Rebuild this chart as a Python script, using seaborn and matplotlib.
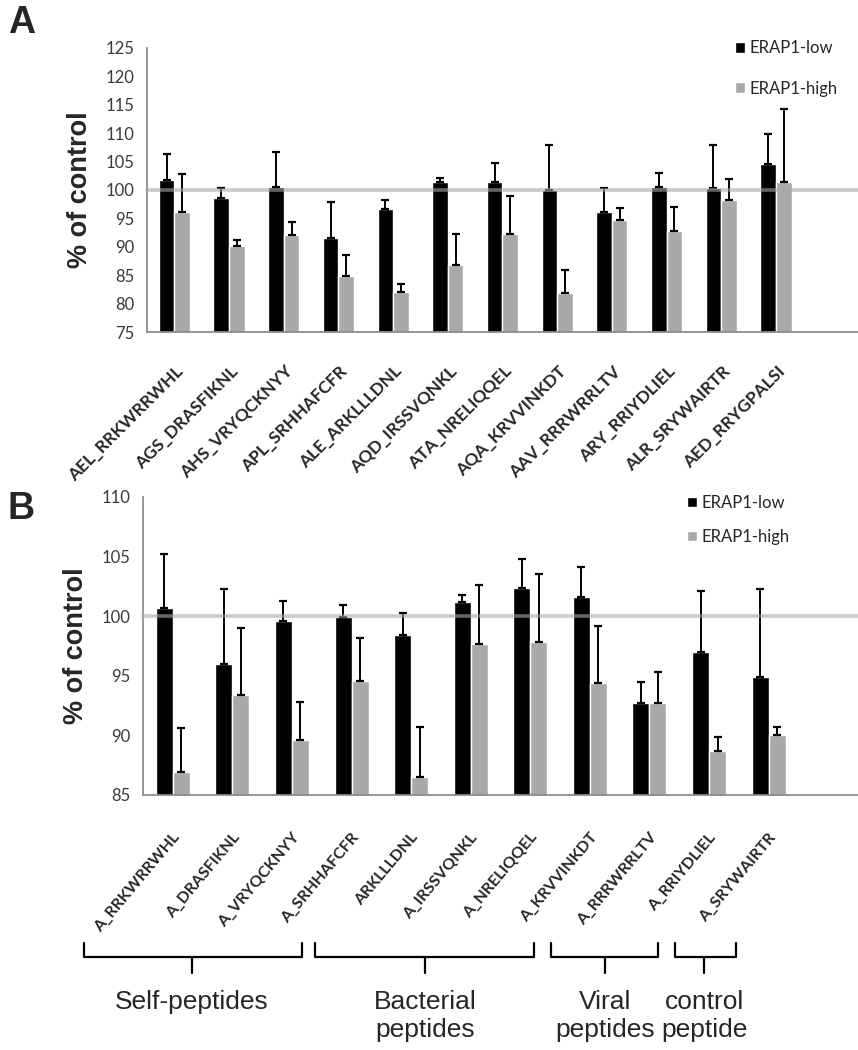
import numpy as np
import pandas as pd
import matplotlib
matplotlib.use("Agg")
import matplotlib.pyplot as plt
import matplotlib.transforms as mtransforms
import seaborn as sns

# ---- data ----
series = ["ERAP1-low", "ERAP1-high"]

peptides_a = ["AEL_RRKWRRWHL", "AGS_DRASFIKNL", "AHS_VRYQCKNYY", "APL_SRHHAFCFR",
              "ALE_ARKLLLDNL", "AQD_IRSSVQNKL", "ATA_NRELIQQEL", "AQA_KRVVINKDT",
              "AAV_RRRWRRLTV", "ARY_RRIYDLIEL", "ALR_SRYWAIRTR", "AED_RRYGPALSI"]
low_a = [101.7, 98.6, 100.6, 91.6, 96.6, 101.4, 101.4, 100.0, 96.2, 100.5, 100.3, 104.5]
low_a_sd = [4.6, 1.7, 6.1, 6.2, 1.6, 0.7, 3.4, 8.0, 4.1, 2.5, 7.6, 5.3]
high_a = [96.1, 90.2, 92.1, 84.9, 82.1, 86.8, 92.3, 81.9, 94.7, 92.8, 98.2, 101.4]
high_a_sd = [6.7, 1.0, 2.3, 3.6, 1.3, 5.4, 6.7, 4.1, 2.1, 4.2, 3.7, 12.8]

peptides_b = ["A_RRKWRRWHL", "A_DRASFIKNL", "A_VRYQCKNYY", "A_SRHHAFCFR",
              "ARKLLLDNL", "A_IRSSVQNKL", "A_NRELIQQEL", "A_KRVVINKDT",
              "A_RRRWRRLTV", "A_RRIYDLIEL", "A_SRYWAIRTR"]
low_b = [100.7, 96.0, 99.6, 99.9, 98.4, 101.2, 102.4, 101.6, 92.7, 97.0, 94.9]
low_b_sd = [4.5, 6.3, 1.7, 1.0, 1.9, 0.6, 2.4, 2.5, 1.8, 5.1, 7.4]
high_b = [86.9, 93.4, 89.6, 94.6, 86.5, 97.7, 97.8, 94.4, 92.7, 88.7, 90.0]
high_b_sd = [3.7, 5.6, 3.2, 3.6, 4.2, 4.9, 5.7, 4.8, 2.6, 1.2, 0.7]

groups = ["Self-peptides", "Bacterial\npeptides", "Viral\npeptides", "control\npeptide"]
group_spans = [(-1.49, 2.17), (2.38, 6.07), (6.35, 8.15), (8.43, 9.45)]
group_centers = [0.32, 4.23, 7.26, 8.92]

COLORS = ["#000000", "#a9a9a9"]
AXIS_GRAY = "#8c8c8c"


def long_df(names, low, low_sd, high, high_sd):
    return pd.DataFrame({
        "peptide": list(names) * 2,
        "series": [series[0]] * len(names) + [series[1]] * len(names),
        "value": list(low) + list(high),
        "sd": list(low_sd) + list(high_sd),
    })


def draw_panel(ax, df, ylim, yticks, xmax, label_rot, label_size, label_dx, label_y,
               legend_pos, legend_spacing):
    sns.barplot(data=df, x="peptide", y="value", hue="series", hue_order=series,
                palette=COLORS, width=0.57, errorbar=None, saturation=1,
                ax=ax, zorder=2)
    # upward-only error bars at each bar centre
    for cont, name in zip(ax.containers, series):
        sub = df[df["series"] == name]
        xs = [b.get_x() + b.get_width() / 2 for b in cont]
        ax.errorbar(xs, sub["value"].values, yerr=[np.zeros(len(sub)), sub["sd"].values],
                    fmt="none", ecolor="black", elinewidth=1.4, capsize=3, capthick=1.6, zorder=3)

    ax.axhline(100, color="#a8a8a8", lw=2.6, alpha=0.6, zorder=4, clip_on=False)

    names = list(df["peptide"].unique())
    n = len(names)
    ax.set_ylim(*ylim)
    ax.set_yticks(yticks)
    ax.set_xlim(-0.5, xmax)
    ax.set_xticks(np.arange(n))
    ax.set_xticklabels([""] * n)
    ax.set_xticks(np.arange(-0.5, n + 1, 1.0), minor=True)
    # rotated category labels, end of text just below each category
    trans = mtransforms.blended_transform_factory(ax.transData, ax.transAxes)
    for i, name in enumerate(names):
        ax.text(i + label_dx, label_y, name, transform=trans, rotation=label_rot,
                rotation_mode="anchor", ha="right", va="center", fontsize=label_size,
                fontweight="bold", family=["Lato", "DejaVu Sans"], clip_on=False)

    ax.tick_params(axis="x", which="major", length=0)
    ax.tick_params(axis="x", which="minor", length=5, width=1.2, color=AXIS_GRAY)
    ax.tick_params(axis="y", length=5, width=1.2, color=AXIS_GRAY, labelsize=12,
                   labelcolor="#3a3a3a", pad=4)
    for t in ax.get_yticklabels():
        t.set_family(["Lato", "DejaVu Sans"])

    for s in ["top", "right"]:
        ax.spines[s].set_visible(False)
    for s in ["left", "bottom"]:
        ax.spines[s].set_color(AXIS_GRAY)
        ax.spines[s].set_linewidth(1.3)

    ax.set_xlabel("")
    ax.set_ylabel("% of control", fontsize=19.5, fontweight="bold",
                  family=["Liberation Sans", "DejaVu Sans"], labelpad=9)

    ax.legend(frameon=False, loc="upper left", bbox_to_anchor=legend_pos,
              handlelength=0.6, handleheight=0.6, handletextpad=0.25,
              labelspacing=legend_spacing, borderaxespad=0,
              prop={"family": ["Lato", "DejaVu Sans"], "size": 12})


sns.set_theme(style="white")
plt.rcParams["font.family"] = ["Liberation Sans", "DejaVu Sans"]

fig = plt.figure(figsize=(8.58, 10.5), dpi=100)
ax_a = fig.add_axes([0.1713, 0.6838, 0.8287, 0.2705])
ax_b = fig.add_axes([0.1667, 0.2429, 0.8333, 0.2838])

draw_panel(ax_a, long_df(peptides_a, low_a, low_a_sd, high_a, high_a_sd),
           (75, 125), np.arange(75, 126, 5), 11.39, 45, 12.5, 0.12, -0.13,
           (0.818, 1.05), 1.45)
draw_panel(ax_b, long_df(peptides_b, low_b, low_b_sd, high_b, high_b_sd),
           (85, 110), np.arange(85, 111, 5), 11.28, 50, 11.5, 0.075, -0.134,
           (0.752, 1.03), 1.1)

# group brackets under panel B
trans = mtransforms.blended_transform_factory(ax_b.transData, ax_b.transAxes)
y_top, y_mid, y_nub = -0.497, -0.544, -0.597
for (x0, x1), xc, name in zip(group_spans, group_centers, groups):
    ax_b.plot([x0, x0, x1, x1], [y_top, y_mid, y_mid, y_top], color="black", lw=1.6,
              transform=trans, clip_on=False, solid_joinstyle="round")
    ax_b.plot([xc, xc], [y_mid, y_nub], color="black", lw=1.6, transform=trans, clip_on=False)
    ax_b.text(xc, -0.655, name, transform=trans, ha="center", va="top", fontsize=19,
              linespacing=1.22)

fig.text(0.009, 0.995, "A", fontsize=27, fontweight="bold", va="top", ha="left")
fig.text(0.009, 0.532, "B", fontsize=27, fontweight="bold", va="top", ha="left")

fig.savefig("out.png", dpi=100)
